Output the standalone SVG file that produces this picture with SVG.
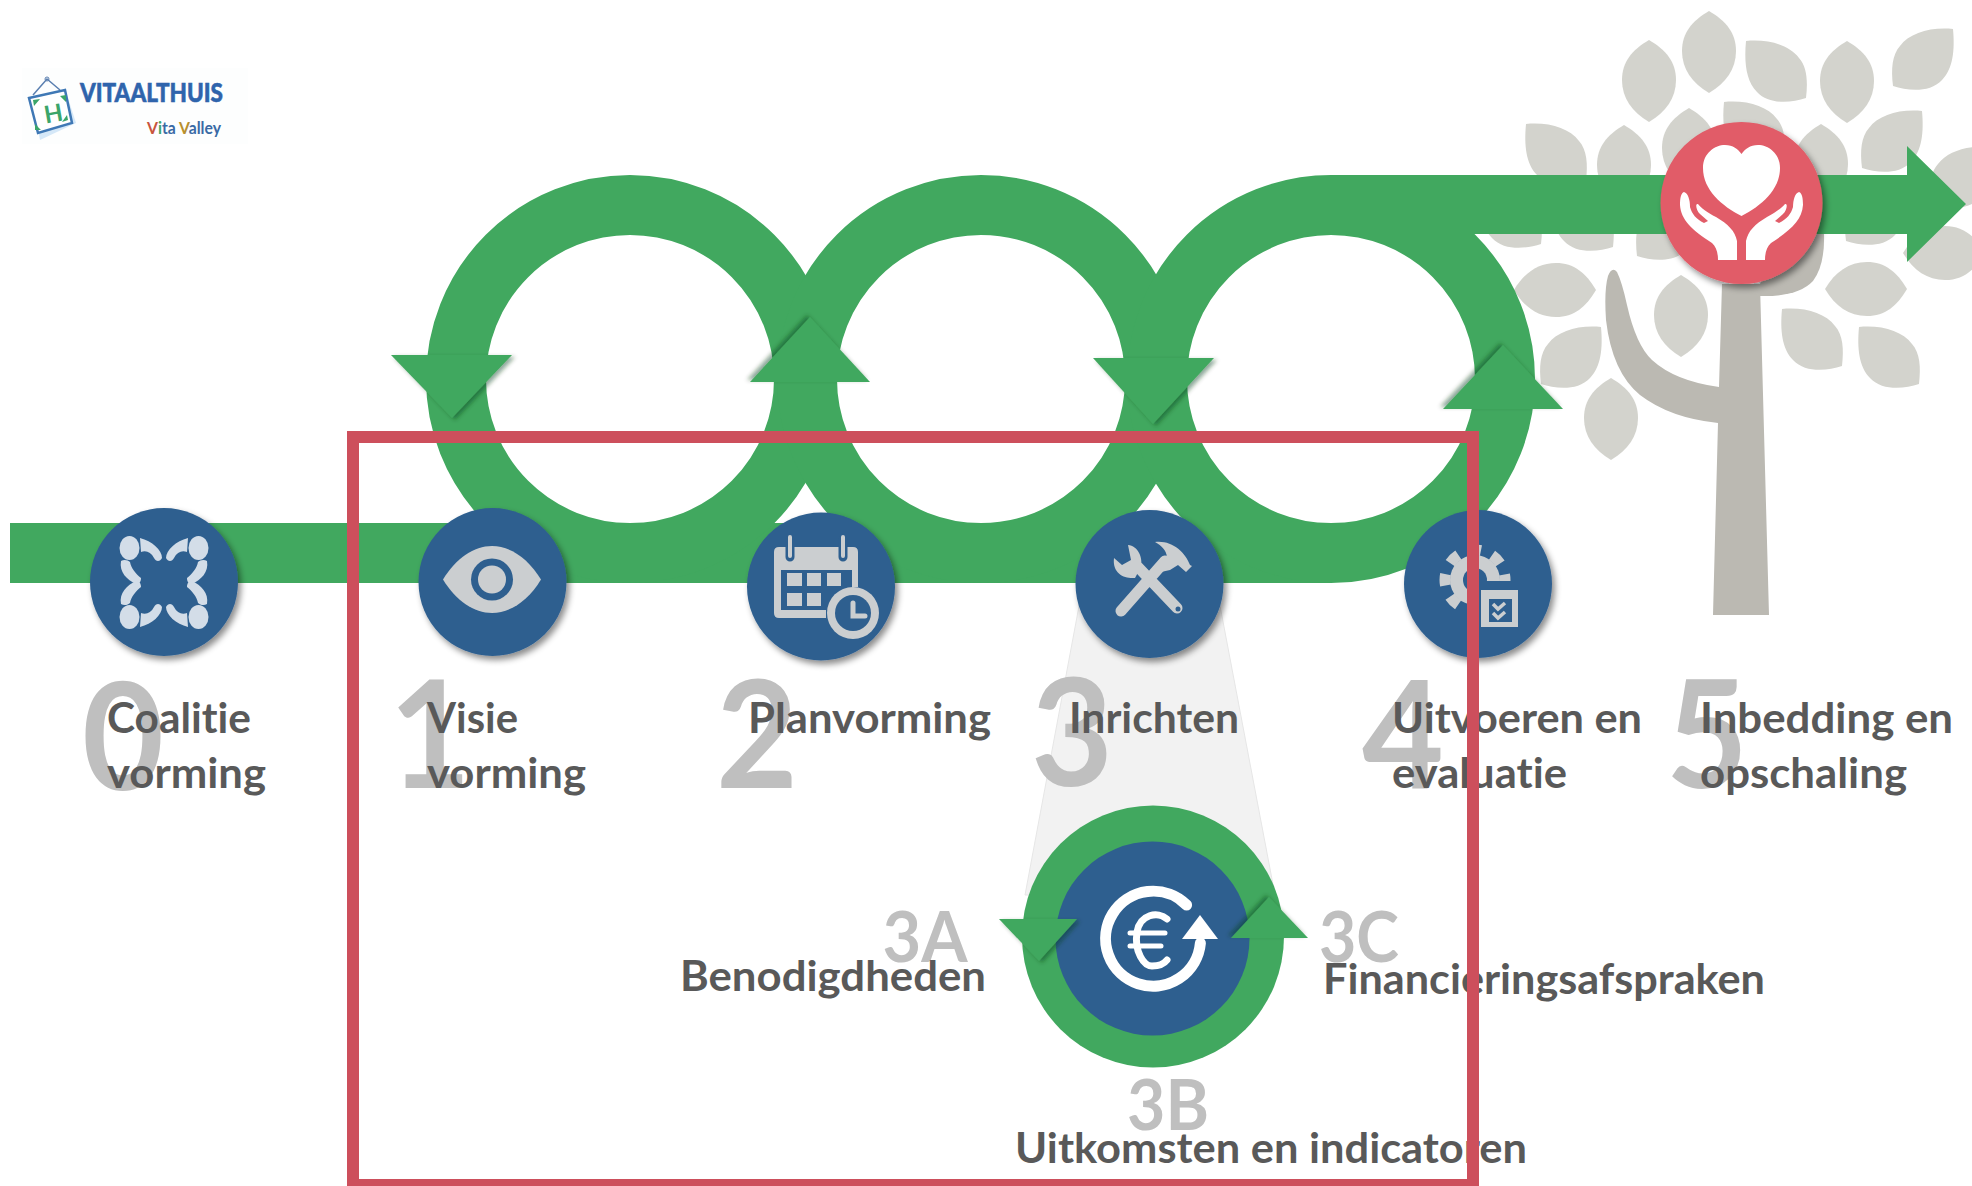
<svg xmlns="http://www.w3.org/2000/svg" width="1972" height="1186" viewBox="0 0 1972 1186">
<style>
text{font-family:"Lato","Liberation Sans",sans-serif;font-weight:700;font-variant-ligatures:none}
.lb{font-size:42px;fill:#595959}
.dg{font-size:150px;fill:#bfbfbf;text-anchor:middle}
.sd{font-size:70px;fill:#bfbfbf;text-anchor:middle}
.g{fill:#41a85f}
.ring{fill:none;stroke:#41a85f;stroke-width:60}
.ic{fill:#cbced0}
.ics{fill:none;stroke:#cbced0;stroke-linecap:round}
.bl{fill:#2e5f8f}
.leaf{fill:#d3d3cd}
.tr{fill:#bbb9b2}
.w{fill:#fff}
</style>
<defs>
<filter id="ns" x="-20%" y="-20%" width="140%" height="140%"><feDropShadow dx="3" dy="4" stdDeviation="3" flood-color="#000" flood-opacity="0.45"/></filter>
<filter id="dn" x="-20%" y="-20%" width="140%" height="140%"><feDropShadow dx="3" dy="2" stdDeviation="2" flood-color="#0a3a1c" flood-opacity="0.45"/></filter>
<filter id="up" x="-20%" y="-20%" width="140%" height="140%"><feDropShadow dx="-3" dy="-2" stdDeviation="2" flood-color="#0a3a1c" flood-opacity="0.45"/></filter>
<path id="leaf" d="M0,-41C17,-31 27,-19 27,-1C27,17 17,31 0,41C-17,31 -27,17 -27,-1C-27,-19 -17,-31 0,-41Z"/>
<path id="leafd" d="M-31,-31C-8,-33 12,-27 22,-14C30,-5 31,9 29,26C14,31 -8,33 -20,20C-31,9 -33,-10 -31,-31Z"/>
</defs>
<rect width="1972" height="1186" fill="#fff"/>

<g id="logo">
<rect x="22" y="68" width="226" height="76" fill="#fdfefe"/>
<path d="M33,103L66,92L76,123L40,140Z" fill="#d5e8f8"/>
<path d="M29,98L65,90L72,123L38,133Z" fill="#fff" stroke="#3f78b5" stroke-width="2.500"/>
<path d="M33,95L47,79L60,90" fill="none" stroke="#5a7fb0" stroke-width="1.500"/>
<circle cx="47" cy="79" r="2" fill="none" stroke="#5a7fb0" stroke-width="1"/>
<path d="M33,100L40,99L34,106ZM66,95L66,102L60,96ZM41,130L35,130L35,124ZM68,120L62,122L67,115Z" fill="#3ba56a"/>
<text x="53" y="122" text-anchor="middle" font-size="24" fill="#3ba56a" transform="rotate(-10 53 112)">H</text>
<text x="80" y="102" font-size="27" style="font-weight:900" fill="#2f64ac" stroke="#2f64ac" stroke-width="0.600" textLength="143" lengthAdjust="spacingAndGlyphs">VITAALTHUIS</text>
<text x="147" y="134" font-size="17" fill="#3a6aa5" textLength="74" lengthAdjust="spacingAndGlyphs"><tspan fill="#c8553d">V</tspan><tspan fill="#3ba56a">i</tspan>ta <tspan fill="#b8902e">V</tspan>alley</text>
</g>

<g id="tree">
<use href="#leaf" class="leaf" transform="translate(1649,81)"/>
<use href="#leaf" class="leaf" transform="translate(1709,52)"/>
<use href="#leaf" class="leaf" transform="translate(1847,82)"/>
<use href="#leaf" class="leaf" transform="translate(1624,166)"/>
<use href="#leaf" class="leaf" transform="translate(1689,149)"/>
<use href="#leaf" class="leaf" transform="translate(1821,165)"/>
<use href="#leaf" class="leaf" transform="translate(1681,316)"/>
<use href="#leaf" class="leaf" transform="translate(1611,419)"/>
<use href="#leaf" class="leaf" transform="translate(1555,290) rotate(90)"/>
<use href="#leaf" class="leaf" transform="translate(1866,289) rotate(90)"/>
<use href="#leaf" class="leaf" transform="translate(1944,253) rotate(90)"/>
<use href="#leafd" class="leaf" transform="translate(1557,155)"/>
<use href="#leafd" class="leaf" transform="translate(1777,72)"/>
<use href="#leafd" class="leaf" transform="translate(1813,340)"/>
<use href="#leafd" class="leaf" transform="translate(1890,358)"/>
<use href="#leafd" class="leaf" transform="translate(1755,133)"/>
<use href="#leafd" class="leaf" transform="translate(1512,218)"/>
<use href="#leafd" class="leaf" transform="translate(1584,221)"/>
<use href="#leafd" class="leaf" transform="translate(1922,60) scale(-1,1)"/>
<use href="#leafd" class="leaf" transform="translate(1891,142) scale(-1,1)"/>
<use href="#leafd" class="leaf" transform="translate(1570,358) scale(-1,1)"/>
<use href="#leafd" class="leaf" transform="translate(1666,230) scale(-1,1)"/>
<use href="#leafd" class="leaf" transform="translate(1875,215) scale(-1,1)"/>
<use href="#leafd" class="leaf" transform="translate(1960,178) scale(-1,1)"/>
<path class="tr" d="M1722,284L1760,284L1769,615L1713,615L1718,423Q1670,418 1640,395Q1612,372 1606,320Q1604,290 1608,276Q1612,266 1617,272Q1622,282 1627,305Q1636,345 1652,360Q1675,381 1719,387Z"/>
<path class="tr" d="M1760,296Q1798,297 1813,281Q1825,265 1824,234L1780,234L1760,284Z"/>
</g>

<polygon id="spotlight" points="1082,590 1217,590 1275,895 1025,895" fill="#f2f2f2" stroke="#e6e6e6" stroke-width="1"/>

<g id="connectors">
<rect class="g" x="10" y="523" width="1321" height="60"/>
<circle class="ring" cx="630" cy="379" r="174"/>
<circle class="ring" cx="981" cy="379" r="174"/>
<circle class="ring" cx="1331" cy="379" r="174"/>
<path class="g" d="M1331,175H1907V146L1966,204L1907,262V234H1331Z"/>
<polygon class="g" filter="url(#dn)" points="391,355 512,355 452,418"/>
<polygon class="g" filter="url(#up)" points="810,317 750,382 870,382"/>
<polygon class="g" filter="url(#dn)" points="1093,358 1214,358 1153,424"/>
<polygon class="g" filter="url(#up)" points="1503,345 1443,409 1563,409"/>
</g>

<g id="node-0">
<circle class="bl" cx="164" cy="582" r="74" filter="url(#ns)"/>
<g fill="#d3dde8">
<g id="c0"><ellipse cx="129.500" cy="548" rx="10" ry="12"/><path d="M140,538C152,541 162,550 162,558C160,562 156,562 154,558C151,552 146,550 141,552Z"/><path d="M121,561C124,559 128,560 130,562C131,568 136,574 141,578C141,582 139,584 136,584C127,580 119,572 121,561Z"/></g>
<use href="#c0" transform="translate(328,0) scale(-1,1)"/>
<use href="#c0" transform="translate(0,1165) scale(1,-1)"/>
<use href="#c0" transform="translate(328,1165) scale(-1,-1)"/>
</g>
</g>

<g id="node-1">
<circle class="bl" cx="492.500" cy="582" r="74" filter="url(#ns)"/>
<path class="ic" d="M443,579.500C456,558 474,546 492,546C510,546 528,558 541,579.500C528,601 510,613 492,613C474,613 456,601 443,579.500Z"/>
<circle class="bl" cx="492" cy="579.500" r="21"/>
<circle class="ic" cx="492" cy="579.500" r="14"/>
</g>

<g id="node-2">
<circle class="bl" cx="821" cy="586.500" r="74" filter="url(#ns)"/>
<path class="ic" fill-rule="evenodd" d="M779,547H853Q858,547 858,552V587H852V570H781V610H826V618H779Q774,618 774,613V552Q774,547 779,547Z"/>
<path d="M790,540V557M843,540V557" fill="none" stroke="#2e5f8f" stroke-width="9" stroke-linecap="round"/>
<path class="ics" stroke-width="4" d="M790,537V556M843,537V556"/>
<g class="ic"><rect x="787" y="573" width="15" height="13"/><rect x="807" y="573" width="14" height="13"/><rect x="827" y="573" width="14" height="13"/><rect x="787" y="593" width="15" height="13"/><rect x="807" y="593" width="14" height="13"/></g>
<circle cx="853" cy="613" r="26" fill="#cbced0"/>
<circle class="bl" cx="853" cy="613" r="18"/>
<path class="ics" stroke-width="5" d="M853,603V616H865"/>
</g>

<g id="node-3">
<circle class="bl" cx="1149.500" cy="584" r="74" filter="url(#ns)"/>
<path class="ics" stroke-width="11" d="M1138,567L1177,608M1121,611L1165,561"/>
<path class="ic" d="M1128,545C1138,546 1143,557 1141,567L1135,578C1125,579 1112,574 1114,558L1122,565L1131,560Z"/>
<path class="ic" d="M1155,542C1172,540 1185,552 1190,565L1192,566L1186,572L1178,565L1170,570L1161,572L1153,567L1167,557C1166,550 1162,546 1155,542Z"/>
<circle class="bl" cx="1178" cy="609" r="2.500"/>
</g>

<g id="node-4">
<circle class="bl" cx="1478" cy="584" r="74" filter="url(#ns)"/>
<circle cx="1475" cy="580" r="25" fill="#cbced0"/>
<circle cx="1475" cy="580" r="30" fill="none" stroke="#cbced0" stroke-width="11" stroke-dasharray="11.500 12.060" stroke-dashoffset="5.750"/>
<circle class="bl" cx="1475" cy="580" r="12"/>
<rect class="bl" x="1477" y="581" width="45" height="50"/>
<rect x="1481" y="590" width="37" height="37" fill="#cbced0"/>
<rect class="bl" x="1489" y="599" width="23" height="23"/>
<path class="ics" stroke-width="3.500" style="stroke-linecap:butt" d="M1493,604L1498,609L1505,603M1493,613L1498,618L1505,612"/>
</g>

<g id="node-5">
<circle cx="1741.500" cy="203" r="81" fill="#e15c68" filter="url(#ns)"/>
<path class="w" d="M1741.500,216C1722,206 1703,190 1703,168C1703,153 1715,145 1725,145C1733,145 1738,149 1741.500,154C1745,149 1750,145 1758,145C1768,145 1780,153 1780,168C1780,190 1761,206 1741.500,216Z"/>
<path id="hand" class="w" d="M1684,192C1681,193 1680,198 1680,205C1681,220 1692,230 1712,243C1716,247 1718,252 1718,260H1737V241C1735,231 1728,224 1716,217C1708,213 1700,207 1698,204C1695,203 1696,210 1700,214L1708,221L1704,223C1696,219 1692,214 1690,207C1690,200 1688,193 1684,192Z"/>
<use href="#hand" transform="translate(3483,0) scale(-1,1)"/>
</g>

<g id="step-labels">
<text class="dg" x="123" y="790" textLength="82" lengthAdjust="spacingAndGlyphs">0</text>
<text class="dg" x="430" y="788" textLength="82" lengthAdjust="spacingAndGlyphs">1</text>
<text class="dg" x="757" y="788" textLength="82" lengthAdjust="spacingAndGlyphs">2</text>
<text class="dg" x="1072" y="786" textLength="82" lengthAdjust="spacingAndGlyphs">3</text>
<text class="dg" x="1403" y="788" textLength="82" lengthAdjust="spacingAndGlyphs">4</text>
<text class="dg" x="1707" y="788" textLength="82" lengthAdjust="spacingAndGlyphs">5</text>
<text class="lb" x="107" y="733" textLength="144" lengthAdjust="spacingAndGlyphs">Coalitie</text>
<text class="lb" x="107" y="788" textLength="159" lengthAdjust="spacingAndGlyphs">vorming</text>
<text class="lb" x="427" y="733" textLength="91" lengthAdjust="spacingAndGlyphs">Visie</text>
<text class="lb" x="427" y="788" textLength="159" lengthAdjust="spacingAndGlyphs">vorming</text>
<text class="lb" x="748" y="733" textLength="243" lengthAdjust="spacingAndGlyphs">Planvorming</text>
<text class="lb" x="1069" y="733" textLength="170" lengthAdjust="spacingAndGlyphs">Inrichten</text>
<text class="lb" x="1392" y="733" textLength="250" lengthAdjust="spacingAndGlyphs">Uitvoeren en</text>
<text class="lb" x="1392" y="788" textLength="175" lengthAdjust="spacingAndGlyphs">evaluatie</text>
<text class="lb" x="1700" y="733" textLength="253" lengthAdjust="spacingAndGlyphs">Inbedding en</text>
<text class="lb" x="1700" y="788" textLength="207" lengthAdjust="spacingAndGlyphs">opschaling</text>
</g>

<g id="node-3-detail">
<circle class="g" cx="1153" cy="936.500" r="131"/>
<circle class="bl" cx="1152.500" cy="938.500" r="97"/>
<polygon class="g" filter="url(#dn)" points="999,919 1077,919 1039,961"/>
<polygon class="g" filter="url(#up)" points="1269,897 1231,938 1308,938"/>
<g fill="none" stroke="#fff" stroke-linecap="round">
<path stroke-width="11" d="M1186.600,905A47.500,47.500 0 1 0 1200.400,943"/>
<path stroke-width="7" d="M1167,919C1158,911 1140,914 1137,932C1134,952 1144,966 1152,966C1158,966 1164,964 1167,960"/>
<path stroke-width="5" d="M1130,933H1165M1130,946H1161"/>
</g>
<polygon class="w" points="1200,915 1218,939 1182,939"/>
<text class="sd" x="925" y="962" textLength="85" lengthAdjust="spacingAndGlyphs">3A</text>
<text class="sd" x="1359" y="962" textLength="80" lengthAdjust="spacingAndGlyphs">3C</text>
<text class="sd" x="1168" y="1130" textLength="82" lengthAdjust="spacingAndGlyphs">3B</text>
<text class="lb" x="680" y="991" textLength="306" lengthAdjust="spacingAndGlyphs">Benodigdheden</text>
<text class="lb" x="1323" y="994" textLength="442" lengthAdjust="spacingAndGlyphs">Financieringsafspraken</text>
<text class="lb" x="1015" y="1163" textLength="512" lengthAdjust="spacingAndGlyphs">Uitkomsten en indicatoren</text>
</g>

<rect id="highlight" x="353" y="437" width="1120" height="748" fill="none" stroke="#cd4f5c" stroke-width="12"/>
</svg>
